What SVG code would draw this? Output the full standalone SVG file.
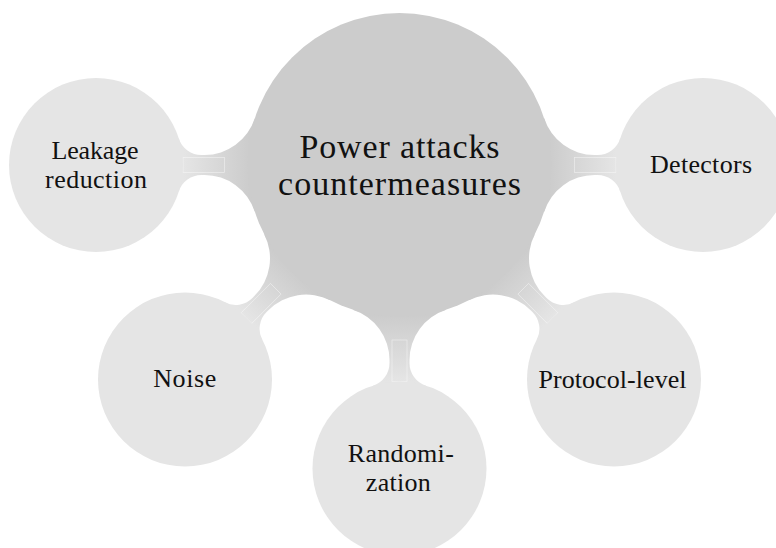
<svg xmlns="http://www.w3.org/2000/svg" width="776" height="548" viewBox="0 0 776 548">
  <style>
    .root { fill: #cccccc; }
    .leaf { fill: #e5e5e5; }
    .bar { stroke: #ffffff; stroke-opacity: 0.55; stroke-width: 0.7; }
    text { font-family: "Liberation Serif", "DejaVu Serif", serif; fill: #111111; text-anchor: middle; }
    .big { font-size: 34px; }
    .small { font-size: 26px; }
  </style>
  <defs>
    <!-- shading along the local axis of each connection: root colour to leaf colour -->
    <linearGradient id="shade" gradientUnits="userSpaceOnUse" x1="150" y1="0" x2="216" y2="0">
      <stop offset="0" stop-color="#cccccc"/>
      <stop offset="1" stop-color="#e5e5e5"/>
    </linearGradient>
    <!-- neck between the root circle (r=152 at origin) and a leaf circle (r=87 at x=303.5) -->
    <g id="link">
      <path fill="url(#shade)" d="M 120,0 L 144.7,-46.7 A 52.9 52.9 0 0 0 195,-10 L 198,-10 A 23.8 23.8 0 0 0 220.7,-26.5 L 260,0 L 220.7,26.5 A 23.8 23.8 0 0 0 198,10 L 195,10 A 52.9 52.9 0 0 0 144.7,46.7 Z"/>
      <rect class="bar" fill="url(#shade)" x="175" y="-7.5" width="41.5" height="15"/>
    </g>
  </defs>

  <g id="connectors">
    <use href="#link" transform="translate(399.5,165) rotate(0)"/>
    <use href="#link" transform="translate(399.5,165) rotate(45)"/>
    <use href="#link" transform="translate(399.5,165) rotate(90)"/>
    <use href="#link" transform="translate(399.5,165) rotate(135)"/>
    <use href="#link" transform="translate(399.5,165) rotate(180)"/>
  </g>

  <g id="root">
    <circle class="root" cx="399.5" cy="165" r="152"/>
    <text class="big" x="399.5" y="158" textLength="200" lengthAdjust="spacing">Power attacks</text>
    <text class="big" x="399.5" y="195" textLength="243" lengthAdjust="spacing">countermeasures</text>
  </g>

  <g id="detectors">
    <circle class="leaf" cx="703" cy="165" r="87"/>
    <text class="small" x="701" y="172.7" textLength="102" lengthAdjust="spacing">Detectors</text>
  </g>

  <g id="protocol-level">
    <circle class="leaf" cx="614" cy="379.5" r="87"/>
    <text class="small" x="612.5" y="388.3" textLength="148" lengthAdjust="spacing">Protocol-level</text>
  </g>

  <g id="randomization">
    <circle class="leaf" cx="399.5" cy="468.5" r="87"/>
    <text class="small" x="400.8" y="461.7" textLength="106" lengthAdjust="spacing">Randomi-</text>
    <text class="small" x="398.3" y="490.7" textLength="65" lengthAdjust="spacing">zation</text>
  </g>

  <g id="noise">
    <circle class="leaf" cx="185" cy="379.5" r="87"/>
    <text class="small" x="184.7" y="387" textLength="63" lengthAdjust="spacing">Noise</text>
  </g>

  <g id="leakage-reduction">
    <circle class="leaf" cx="96" cy="165" r="87"/>
    <text class="small" x="95" y="159" textLength="87" lengthAdjust="spacing">Leakage</text>
    <text class="small" x="96" y="188" textLength="102" lengthAdjust="spacing">reduction</text>
  </g>
</svg>
